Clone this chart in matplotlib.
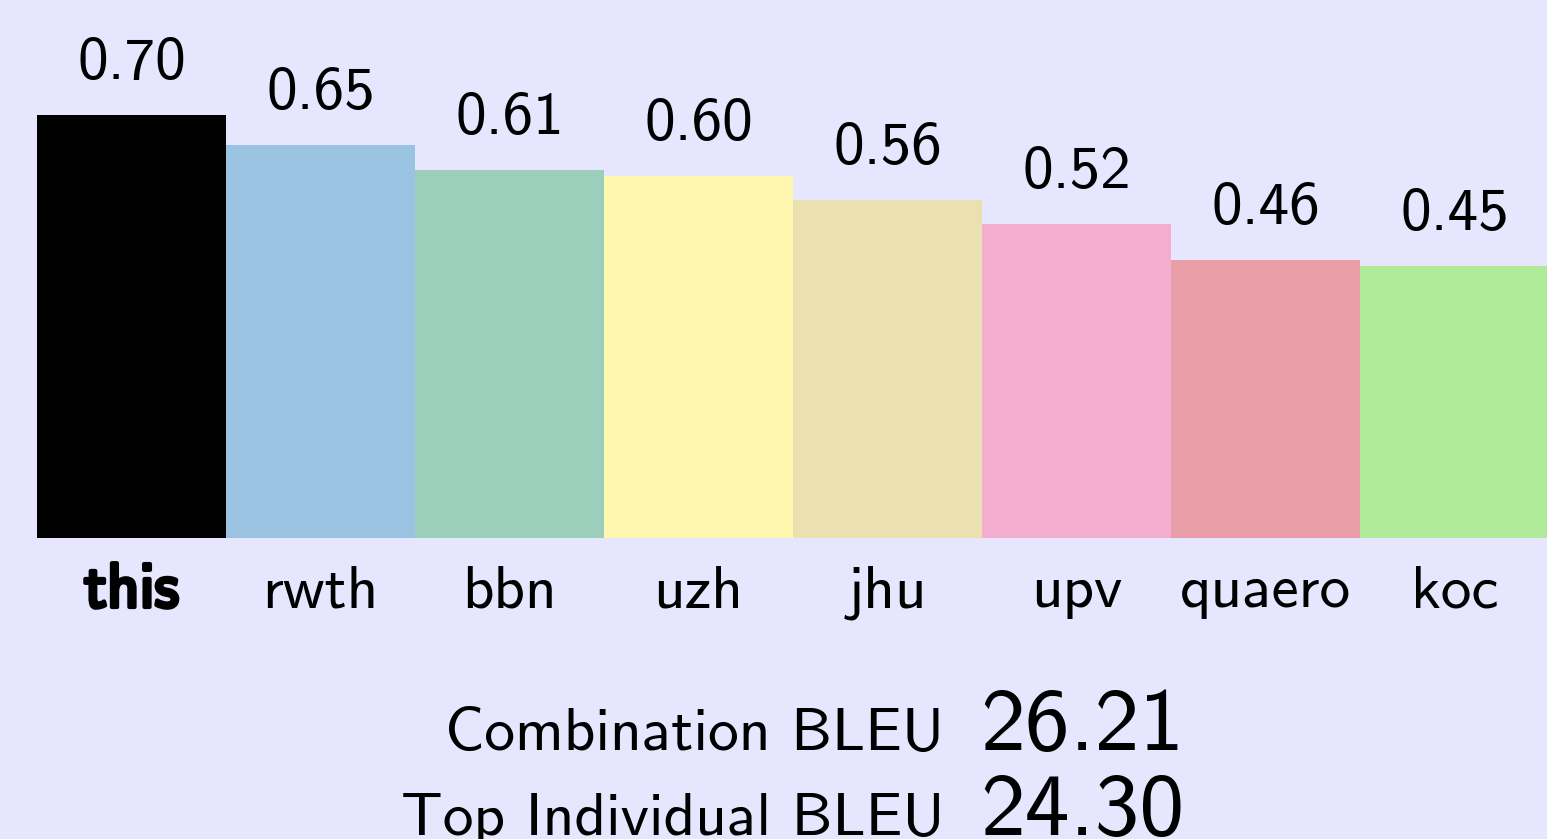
import matplotlib
matplotlib.use("Agg")
import matplotlib.pyplot as plt
import matplotlib.patheffects as pe

systems = ["this", "rwth", "bbn", "uzh", "jhu", "upv", "quaero", "koc"]
scores = [0.70, 0.65, 0.61, 0.60, 0.56, 0.52, 0.46, 0.45]
value_labels = ["0.70", "0.65", "0.61", "0.60", "0.56", "0.52", "0.46", "0.45"]
colors = ["#000000", "#9AC3E2", "#9BCFBC", "#FFF7B0", "#EAE0B0", "#F2ADCF", "#EA9EA8", "#AFEB98"]
summary_labels = ["Combination BLEU", "Top Individual BLEU"]
summary_values = ["26.21", "24.30"]

W, H = 1547, 839
bg = "#E6E6FF"
fig = plt.figure(figsize=(W / 100, H / 100), dpi=100, facecolor=bg)

ax_left = 37 / W
ax_w = 8 * 189 / W
base = 538
ymax = 0.8
px_per_unit = 604
ax_h_px = ymax * px_per_unit
ax = fig.add_axes([ax_left, (H - base) / H, ax_w, ax_h_px / H])
ax.set_facecolor(bg)
ax.set_xlim(-0.5, len(systems) - 0.5)
ax.set_ylim(0, ymax)
ax.bar(range(len(systems)), scores, width=1.0, color=colors, linewidth=0)
for s in ax.spines.values():
    s.set_visible(False)
ax.set_xticks([])
ax.set_yticks([])

font = "cmss10"
for i, (v, lab) in enumerate(zip(scores, value_labels)):
    ax.annotate(lab, xy=(i, v), xytext=(0, 36 * 0.72), textcoords="offset points",
                ha="center", va="baseline", fontsize=44, family=font)
for i, name in enumerate(systems):
    if i == 0:
        t = ax.annotate(name, xy=(i, 0), xytext=(0, -69 * 0.72), textcoords="offset points",
                        ha="center", va="baseline", fontsize=45.5, family=font)
        t.set_path_effects([pe.withStroke(linewidth=3.0, foreground="black")])
    else:
        ax.annotate(name, xy=(i, 0), xytext=(0, -69 * 0.72), textcoords="offset points",
                    ha="center", va="baseline", fontsize=44, family=font)

baselines = [750, 835]
for lab, val, yb in zip(summary_labels, summary_values, baselines):
    fig.text(944 / W, (H - yb) / H, lab, ha="right", va="baseline", fontsize=44.2, family=font)
    fig.text(980 / W, (H - yb) / H, val, ha="left", va="baseline", fontsize=64.5, family=font)

fig.savefig("out.png", dpi=100, facecolor=bg)
